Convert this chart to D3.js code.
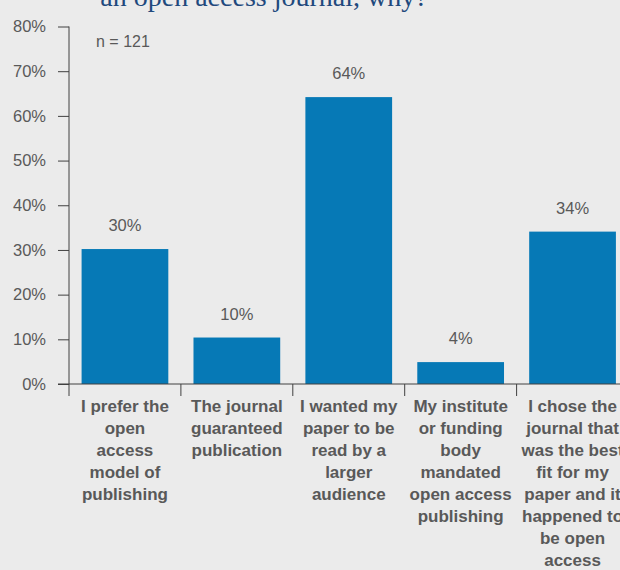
<!DOCTYPE html>
<html><head><meta charset="utf-8">
<script src="https://cdn.jsdelivr.net/npm/d3@7"></script>
<style>
html,body{margin:0;padding:0;background:#ebebeb;}
svg{display:block;}
</style></head>
<body>
<script>
const categories = ["c1","c2","c3","c4","c5"];
const categoryLines = [
  ["I prefer the","open","access","model of","publishing"],
  ["The journal","guaranteed","publication"],
  ["I wanted my","paper to be","read by a","larger","audience"],
  ["My institute","or funding","body","mandated","open access","publishing"],
  ["I chose the","journal that","was the best","fit for my","paper and it","happened to","be open","access"]
];
const values = [30.2, 10.4, 64.2, 4.9, 34.1];
const valueLabels = ["30%","10%","64%","4%","34%"];
const yTicks = [0,10,20,30,40,50,60,70,80];
const titleText = "an open access journal, why?";
const noteText = "n = 121";

const W = 620, H = 570;
const svg = d3.select("body").append("svg").attr("width", W).attr("height", H);
svg.append("rect").attr("width", W).attr("height", H).attr("fill", "#ebebeb");

const y = d3.scaleLinear().domain([0, 80]).range([384, 26.5]);
const x = d3.scaleBand().domain(categories).range([69, 628.5]).paddingInner(0.225).paddingOuter(0.1125);
const step = x.step();
const font = "'Liberation Sans', Arial, sans-serif";

// title (partly cut off at top, as in the reference)
svg.append("text").attr("x", 264).attr("y", 6).attr("text-anchor", "middle")
  .attr("font-family", "'Liberation Serif','Times New Roman',serif").attr("font-size", 28)
  .attr("fill", "#1f497d").text(titleText);

// bars
svg.selectAll("rect.bar").data(values).join("rect").attr("class","bar")
  .attr("x", (d,i) => x(categories[i])).attr("width", x.bandwidth())
  .attr("y", d => y(d)).attr("height", d => y(0) - y(d)).attr("fill", "#0679b6");

// value labels
svg.selectAll("text.val").data(values).join("text").attr("class","val")
  .attr("x", (d,i) => x(categories[i]) + x.bandwidth()/2)
  .attr("y", d => y(d) - 18).attr("text-anchor","middle")
  .attr("font-family", font).attr("font-size", 16.5).attr("fill", "#595959")
  .text((d,i) => valueLabels[i]);

// y axis
const yAxis = d3.axisLeft(y).tickValues(yTicks).tickFormat(d => d + "%").tickSize(11).tickPadding(12);
const gy = svg.append("g").attr("transform", "translate(69,0)").call(yAxis);
gy.select(".domain").remove();
gy.selectAll(".tick line").attr("stroke", "#404040");
gy.selectAll(".tick text").attr("font-family", font).attr("font-size", 16.5).attr("fill", "#595959");
svg.append("line").attr("x1", 69).attr("x2", 69).attr("y1", y(80)).attr("y2", 396).attr("stroke", "#404040");

// x axis
svg.append("line").attr("x1", 58).attr("x2", W).attr("y1", y(0)).attr("y2", y(0)).attr("stroke", "#404040");
svg.selectAll("line.ct").data(categories.slice(1)).join("line").attr("class","ct")
  .attr("x1", d => x(d) - step*x.paddingInner()/2).attr("x2", d => x(d) - step*x.paddingInner()/2)
  .attr("y1", y(0)).attr("y2", 396).attr("stroke", "#404040");

// category labels
categories.forEach((c, i) => {
  const t = svg.append("text").attr("text-anchor","middle")
    .attr("font-family", font).attr("font-size", 17).attr("font-weight","bold").attr("fill", "#595959");
  categoryLines[i].forEach((ln, j) => {
    t.append("tspan").attr("x", x(c) + x.bandwidth()/2).attr("y", 412 + j*22).text(ln);
  });
});

// note
svg.append("text").attr("x", 96).attr("y", 47).attr("font-family", font).attr("font-size", 16)
  .attr("fill", "#595959").text(noteText);
</script>
</body></html>
